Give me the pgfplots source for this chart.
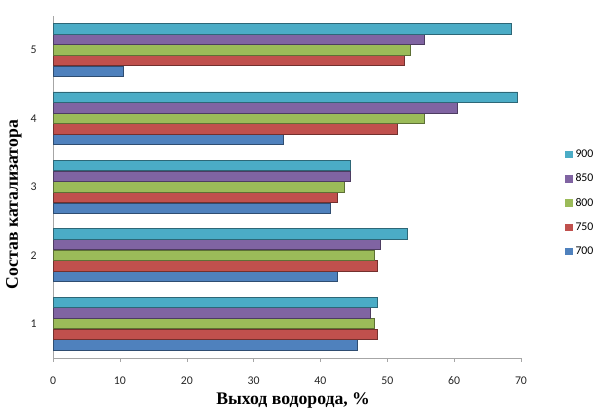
\documentclass[border=0pt]{standalone}
\usepackage{pgfplots}
\pgfplotsset{compat=1.18}
\usepackage{fontspec}
\setmainfont{Liberation Serif}
\newfontfamily\calib{Carlito}

\definecolor{c700}{HTML}{4F81BD}
\definecolor{c750}{HTML}{C0504D}
\definecolor{c800}{HTML}{9BBB59}
\definecolor{c850}{HTML}{8064A2}
\definecolor{c900}{HTML}{4BACC6}

\pgfplotsset{
  hbar/.style={
    draw=#1!60!black, line width=0.5pt, fill=#1,
    legend image code/.code={\fill[#1] (0pt,-2.6pt) rectangle (5.2pt,2.6pt);}
  }
}

\begin{document}
\begin{tikzpicture}
\begin{axis}[
  scale only axis,
  width=357pt, height=261pt,
  xbar, bar width=7.9pt,
  xmin=0, xmax=70,
  ymin=0.5, ymax=5.5,
  xtick={0,10,...,70},
  ytick={1,2,3,4,5},
  minor ytick={0.5,1.5,2.5,3.5,4.5,5.5},
  axis x line*=bottom,
  axis y line*=left,
  axis line style={gray!70},
  tick align=outside,
  major tick length=3pt,
  minor tick length=3pt,
  ytick style={draw=none},
  minor tick style={draw=gray!70},
  xtick style={draw=gray!70},
  /pgf/number format/assume math mode=true,
  tick label style={font=\calib\fontsize{9}{10}\selectfont, text=black!85},
  xticklabel style={yshift=-8pt},
  yticklabel style={xshift=-6pt},
  xlabel={\bfseries Выход водорода, \%},
  ylabel={\bfseries Состав катализатора},
  label style={font=\fontsize{13.5}{15}\selectfont},
  xlabel style={at={(axis description cs:0.513,-0.126)}, anchor=center},
  ylabel style={at={(axis description cs:-0.084,0.448)}, anchor=center},
  reverse legend,
  legend style={at={(1.086,0.625)}, anchor=north west, draw=none, fill=none,
    font=\calib\fontsize{9}{10}\selectfont, row sep=7pt},
  legend cell align=left,
]
\addplot[hbar=c700, bar shift=-16.2pt] coordinates {(45.5,1) (42.5,2) (41.5,3) (34.5,4) (10.5,5)};
\addplot[hbar=c750, bar shift=-8.1pt] coordinates {(48.5,1) (48.5,2) (42.5,3) (51.5,4) (52.5,5)};
\addplot[hbar=c800, bar shift=0pt] coordinates {(48,1) (48,2) (43.5,3) (55.5,4) (53.5,5)};
\addplot[hbar=c850, bar shift=8.1pt] coordinates {(47.5,1) (49,2) (44.5,3) (60.5,4) (55.5,5)};
\addplot[hbar=c900, bar shift=16.2pt] coordinates {(48.5,1) (53,2) (44.5,3) (69.5,4) (68.5,5)};
\legend{700,750,800,850,900}
\end{axis}
\path[use as bounding box] (-40.5pt,-40.5pt) rectangle (409.5pt,273pt);
\end{tikzpicture}
\end{document}
